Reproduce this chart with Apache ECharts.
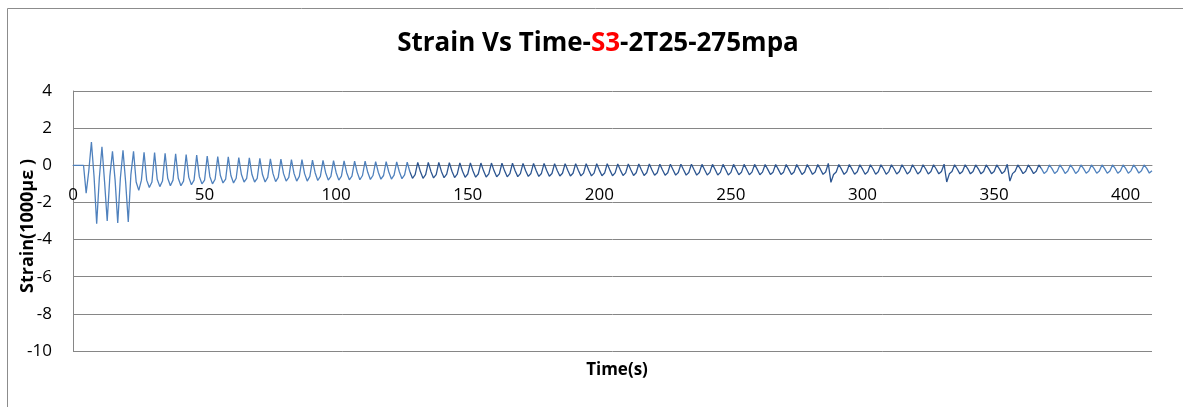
<!DOCTYPE html>
<html>
<head>
<meta charset="utf-8">
<script src="https://cdn.jsdelivr.net/npm/echarts@6/dist/echarts.min.js"></script>
<style>
html,body{margin:0;padding:0;background:#fff;}
#chart{width:1183px;height:407px;}
</style>
</head>
<body>
<div id="chart"></div>
<script>
// Sample spacing of the recorded strain (seconds per sample)
const sampleStep = 1;
// Strain (1000 µε), one value per second from t = 0 s
const strain = [
  0, 0, 0, 0, 0, -1.5, -0.3,
  1.25, -0.6, -3.15, -0.7,
  1.0, -0.9, -3.0, -0.6,
  0.75, -0.8, -3.1, -0.7,
  0.8, -0.9, -3.05, -0.5,
  0.75, -0.9, -1.35, -0.8,
  0.7, -0.8, -1.2, -0.9,
  0.68, -0.75, -1.15, -0.85,
  0.65, -0.7, -1.1, -0.8,
  0.62, -0.7, -1.1, -0.85,
  0.58, -0.65, -1.05, -0.8,
  0.55, -0.6, -1.0, -0.8,
  0.5, -0.6, -1.0, -0.75,
  0.47, -0.55, -0.95, -0.75,
  0.45, -0.55, -0.95, -0.7,
  0.42, -0.5, -0.9, -0.7,
  0.4, -0.5, -0.9, -0.7,
  0.37, -0.5, -0.9, -0.65,
  0.35, -0.45, -0.88, -0.65,
  0.33, -0.45, -0.85, -0.65,
  0.3, -0.45, -0.85, -0.6,
  0.3, -0.45, -0.85, -0.6,
  0.28, -0.4, -0.82, -0.6,
  0.27, -0.4, -0.8, -0.6,
  0.25, -0.4, -0.8, -0.58,
  0.24, -0.4, -0.78, -0.58,
  0.22, -0.38, -0.78, -0.55,
  0.22, -0.38, -0.76, -0.55,
  0.2, -0.37, -0.75, -0.55,
  0.2, -0.36, -0.74, -0.53,
  0.18, -0.35, -0.72, -0.52,
  0.17, -0.35, -0.7, -0.5,
  0.16, -0.34, -0.7, -0.5,
  0.15, -0.33, -0.68, -0.5,
  0.15, -0.33, -0.67, -0.48,
  0.14, -0.32, -0.66, -0.48,
  0.13, -0.32, -0.65, -0.47,
  0.13, -0.31, -0.64, -0.47,
  0.12, -0.3, -0.63, -0.46,
  0.12, -0.3, -0.62, -0.46,
  0.11, -0.3, -0.62, -0.45,
  0.11, -0.29, -0.61, -0.45,
  0.1, -0.29, -0.6, -0.44,
  0.1, -0.28, -0.6, -0.44,
  0.1, -0.28, -0.59, -0.44,
  0.09, -0.28, -0.58, -0.43,
  0.09, -0.27, -0.58, -0.43,
  0.09, -0.27, -0.57, -0.42,
  0.08, -0.27, -0.57, -0.42,
  0.08, -0.26, -0.56, -0.42,
  0.08, -0.26, -0.56, -0.41,
  0.07, -0.26, -0.55, -0.41,
  0.07, -0.25, -0.55, -0.4,
  0.07, -0.25, -0.55, -0.4,
  0.07, -0.25, -0.54, -0.4,
  0.06, -0.25, -0.54, -0.4,
  0.06, -0.24, -0.53, -0.39,
  0.06, -0.24, -0.53, -0.39,
  0.06, -0.24, -0.53, -0.39,
  0.05, -0.24, -0.52, -0.38,
  0.05, -0.23, -0.52, -0.38,
  0.05, -0.23, -0.52, -0.38,
  0.05, -0.23, -0.51, -0.38,
  0.05, -0.23, -0.51, -0.37,
  0.05, -0.22, -0.51, -0.37,
  0.04, -0.22, -0.5, -0.37,
  0.04, -0.22, -0.5, -0.37,
  0.04, -0.22, -0.5, -0.36,
  0.04, -0.22, -0.5, -0.36,
  0.04, -0.21, -0.49, -0.36,
  0.04, -0.21, -0.49, -0.36,
  0.1, -0.92, -0.5, -0.36,
  0.04, -0.21, -0.49, -0.35,
  0.04, -0.21, -0.48, -0.35,
  0.03, -0.21, -0.48, -0.35,
  0.03, -0.2, -0.48, -0.35,
  0.03, -0.2, -0.48, -0.34,
  0.03, -0.2, -0.47, -0.34,
  0.03, -0.2, -0.47, -0.34,
  0.03, -0.2, -0.47, -0.34,
  0.03, -0.2, -0.47, -0.34,
  0.03, -0.2, -0.46, -0.33,
  0.06, -0.9, -0.46, -0.33,
  0.03, -0.2, -0.46, -0.33,
  0.03, -0.19, -0.46, -0.33,
  0.02, -0.19, -0.46, -0.33,
  0.02, -0.19, -0.45, -0.33,
  0.02, -0.19, -0.45, -0.32,
  0.05, -0.85, -0.45, -0.32,
  0.02, -0.19, -0.45, -0.32,
  0.02, -0.19, -0.45, -0.32,
  0.02, -0.18, -0.44, -0.32,
  0.02, -0.18, -0.44, -0.32,
  0.02, -0.18, -0.44, -0.31,
  0.02, -0.18, -0.44, -0.31,
  0.02, -0.18, -0.43, -0.31,
  0.02, -0.18, -0.43, -0.31,
  0.02, -0.18, -0.43, -0.31,
  0.02, -0.17, -0.43, -0.31,
  0.02, -0.17, -0.43, -0.3,
  0.02, -0.17, -0.42, -0.3,
  0.02, -0.17, -0.42, -0.3
];
// Time ranges where the trace appears darker
const darkSegmentStart = 128;
const darkSegmentEnd = 368;
// Axis tick settings
const yTicks = [-10, -8, -6, -4, -2, 0, 2, 4];
const xTickStep = 50;
const xMax = 410;

const titleParts = ['Strain Vs Time-', 'S3', '-2T25-275mpa'];
const xAxisTitle = 'Time(s)';
const yAxisTitle = 'Strain(1000\u03bc\u03b5 )';

const seriesData = strain.map((v, i) => [i * sampleStep, v]);

// layout helpers (pixels)
const gridTop = 91, gridBottomPx = 351;
const yMin = yTicks[0], yMax = yTicks[yTicks.length - 1];
const zeroPx = gridTop + (yMax / (yMax - yMin)) * (gridBottomPx - gridTop);
const xAxisOffset = -(gridBottomPx - zeroPx);

const chart = echarts.init(document.getElementById('chart'));
chart.setOption({
  animation: false,
  backgroundColor: '#fff',
  title: [
    {
      text: '{a|' + titleParts[0] + '}{b|' + titleParts[1] + '}{a|' + titleParts[2] + '}',
      left: 593,
      textAlign: 'center',
      top: 26,
      textStyle: {
        rich: {
          a: { fontFamily: 'Open Sans', fontWeight: 'bold', fontSize: 26, color: '#000' },
          b: { fontFamily: 'Open Sans', fontWeight: 'bold', fontSize: 26, color: '#ff0000' }
        }
      }
    },
    {
      text: xAxisTitle,
      left: 612,
      textAlign: 'center',
      top: 357,
      textStyle: { fontFamily: 'Open Sans', fontWeight: 'bold', fontSize: 17, color: '#000' }
    }
  ],
  graphic: [
    {
      type: 'rect',
      shape: { x: 7.5, y: 8.5, width: 1200, height: 420 },
      style: { fill: 'none', stroke: '#8c8c8c', lineWidth: 1 },
      silent: true
    }
  ],
  grid: {
    left: 73, right: 31, top: gridTop, bottom: 407 - gridBottomPx,
    containLabel: false,
    outerBoundsMode: 'none'
  },
  xAxis: {
    type: 'value',
    min: 0,
    max: xMax,
    interval: xTickStep,
    offset: xAxisOffset,
    axisLine: { show: true, onZero: false, lineStyle: { color: '#868686', width: 1 } },
    axisTick: { show: false },
    splitLine: { show: false },
    axisLabel: {
      showMaxLabel: false,
      margin: 21,
      fontFamily: 'Open Sans',
      fontSize: 17,
      color: '#000'
    }
  },
  yAxis: {
    type: 'value',
    min: yMin,
    max: yMax,
    interval: 2,
    name: yAxisTitle,
    nameLocation: 'middle',
    nameGap: 36,
    nameMoveOverlap: false,
    nameTextStyle: { fontFamily: 'Open Sans', fontWeight: 'bold', fontSize: 18, color: '#000', padding: [0, 10, 0, 0] },
    axisLine: { show: true, lineStyle: { color: '#868686', width: 1 } },
    axisTick: { show: false },
    splitLine: { show: true, lineStyle: { color: '#868686', width: 1 } },
    axisLabel: {
      margin: 21,
      fontFamily: 'Open Sans',
      fontSize: 17,
      color: '#000'
    }
  },
  visualMap: {
    show: false,
    type: 'piecewise',
    dimension: 0,
    seriesIndex: 0,
    pieces: [
      { lt: darkSegmentStart, color: '#4f81bd' },
      { gte: darkSegmentStart, lt: darkSegmentEnd, color: '#2c5590' },
      { gte: darkSegmentEnd, color: '#4f81bd' }
    ]
  },
  series: [
    {
      type: 'line',
      data: seriesData,
      showSymbol: false,
      symbol: 'none',
      lineStyle: { width: 1.3 },
      z: 3
    }
  ]
});
</script>
</body>
</html>
